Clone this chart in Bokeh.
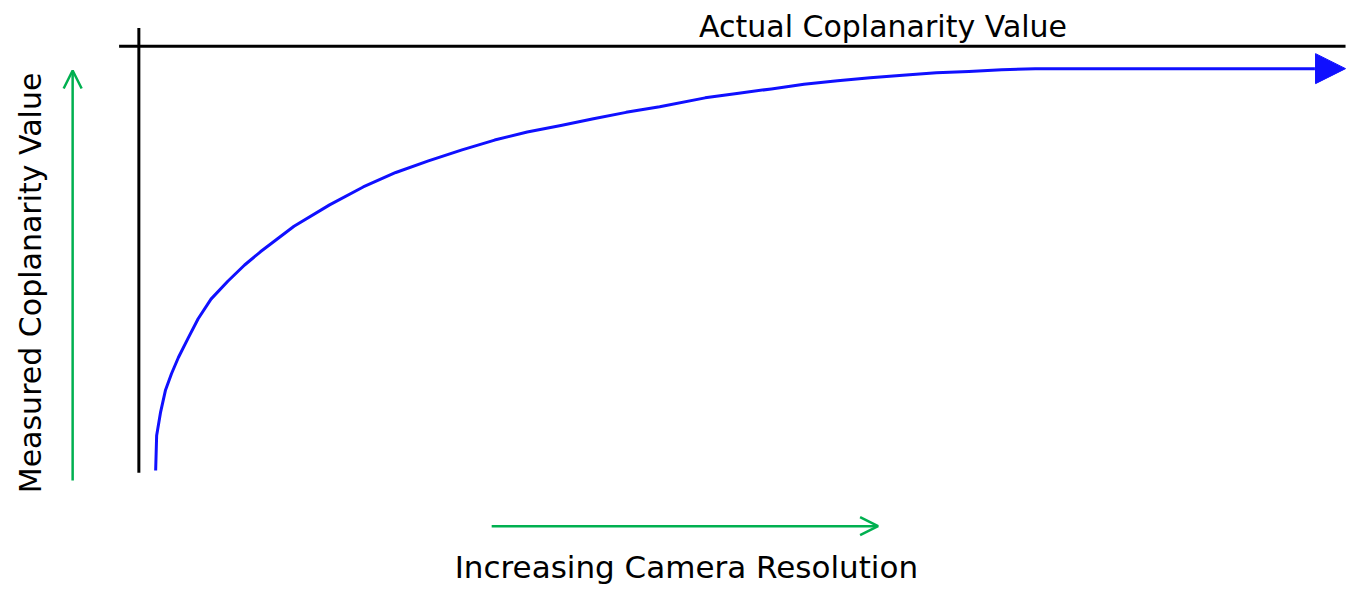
import numpy as np
from bokeh.plotting import figure
from bokeh.models import Range1d, Label, Arrow, NormalHead, OpenHead
from bokeh.embed import file_html
from bokeh.resources import INLINE

# ---- data (conceptual units: resolution, measured value as % of actual) ----
resolution = [0.17, 0.18, 0.22, 0.27, 0.33, 0.40, 0.50, 0.60, 0.73, 0.90,
              1.07, 1.23, 1.40, 1.57, 1.93, 2.27, 2.60, 2.93, 3.27, 3.60,
              3.93, 4.27, 4.60, 4.93, 5.27, 5.73, 6.07, 6.40, 6.73, 7.07,
              7.40, 7.73, 8.07, 8.40, 8.73, 9.07, 9.40, 11.90]
measured = [0.5, 8.7, 14.2, 19.4, 23.2, 27.0, 31.6, 36.1, 40.7, 44.9,
            48.7, 51.8, 54.8, 57.8, 62.8, 67.0, 70.4, 73.1, 75.7, 78.0,
            79.9, 81.4, 83.0, 84.5, 85.8, 87.9, 89.0, 90.0, 91.1, 91.9,
            92.6, 93.2, 93.8, 94.1, 94.5, 94.7, 94.75, 94.75]
actual_value = 100

title_text = "Actual Coplanarity Value"
x_text = "Increasing Camera Resolution"
y_text = "Measured Coplanarity Value"

# ---- layout constants ----
X0, X1 = -1.40, 12.24
Y0, Y1 = -27.40, 110.73
FONT = "DejaVu Sans"
BLUE = "#1010ff"
GREEN = "#00b050"

p = figure(width=1348, height=589, x_range=Range1d(X0, X1), y_range=Range1d(Y0, Y1),
           output_backend="svg", toolbar_location=None, min_border=0,
           x_axis_location=None, y_axis_location=None)
p.grid.visible = False
p.outline_line_color = None
p.background_fill_color = "white"
p.border_fill_color = "white"

# black reference lines: measured axis and actual value line
p.segment(x0=[0], y0=[0], x1=[0], y1=[actual_value + 4.3], line_color="black", line_width=3)
p.segment(x0=[-0.2], y0=[actual_value], x1=[12.21], y1=[actual_value], line_color="black", line_width=3)

# blue curve
p.line(resolution, measured, line_color=BLUE, line_width=3, line_join="round")
p.add_layout(Arrow(end=NormalHead(size=30, fill_color=BLUE, line_color=BLUE, line_width=1),
                   x_start=resolution[-1], y_start=measured[-1],
                   x_end=12.21, y_end=measured[-1],
                   line_color=BLUE, line_width=3))

# green direction arrows
p.add_layout(Arrow(end=OpenHead(size=18, line_color=GREEN, line_width=2.5),
                   x_start=-0.67, y_start=-1.83, x_end=-0.67, y_end=94.3,
                   line_color=GREEN, line_width=2.5))
p.add_layout(Arrow(end=OpenHead(size=18, line_color=GREEN, line_width=2.5),
                   x_start=3.57, y_start=-12.56, x_end=7.48, y_end=-12.56,
                   line_color=GREEN, line_width=2.5))

# texts
p.add_layout(Label(x=7.53, y=104.64, text=title_text, text_align="center",
                   text_baseline="alphabetic", text_font=FONT, text_font_size="30px",
                   text_color="black"))
p.add_layout(Label(x=5.54, y=-22.24, text=x_text, text_align="center",
                   text_baseline="alphabetic", text_font=FONT, text_font_size="31px",
                   text_color="black"))
p.add_layout(Label(x=-1.10, y=44.5, text=y_text, angle=np.pi / 2, text_align="center",
                   text_baseline="alphabetic", text_font=FONT, text_font_size="30px",
                   text_color="black"))

open("out.html", "w").write(file_html(p, INLINE))
